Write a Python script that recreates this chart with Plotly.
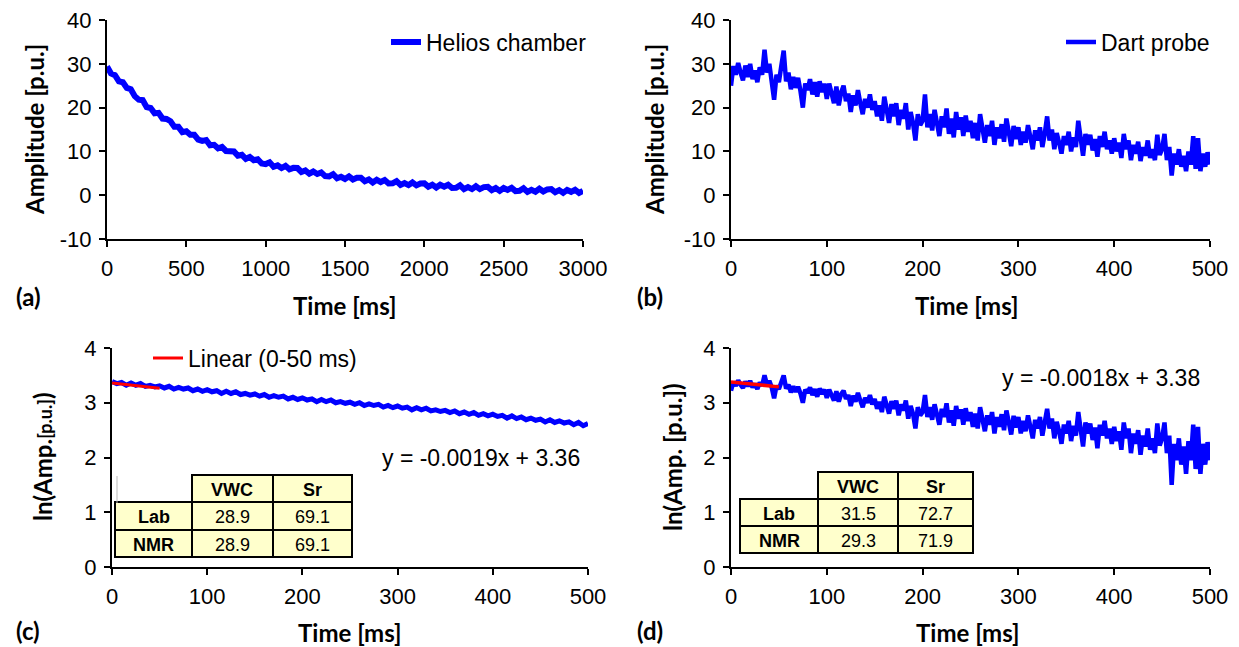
import plotly.graph_objects as go

W, H = 1239, 647

# ---------------- data ----------------
helios_t = list(range(0, 3001, 25))
helios_amp = [
    29.4, 27.8, 27.4, 26.0, 25.8, 24.5, 24.2, 22.6,
    21.8, 21.7, 20.1, 19.9, 18.7, 18.8, 17.5, 17.4,
    16.9, 15.6, 15.6, 14.4, 14.6, 13.8, 13.8, 12.7,
    12.4, 12.6, 11.4, 11.5, 10.7, 11.0, 10.1, 10.2,
    10.0, 9.0, 9.2, 8.3, 8.7, 8.0, 8.2, 7.25,
    7.1, 7.5, 6.5, 6.8, 6.2, 6.7, 5.9, 6.25,
    6.2, 5.3, 5.65, 4.9, 5.4, 4.85, 5.2, 4.35,
    4.3, 4.8, 3.85, 4.2, 3.7, 4.3, 3.6, 4.0,
    4.0, 3.2, 3.6, 2.9, 3.5, 3.0, 3.45, 2.67,
    2.7, 3.22, 2.35, 2.77, 2.3, 2.92, 2.25, 2.67,
    2.7, 1.95, 2.4, 1.75, 2.4, 1.95, 2.4, 1.65,
    1.7, 2.25, 1.4, 1.85, 1.4, 2.05, 1.4, 1.85,
    1.9, 1.16, 1.62, 0.98, 1.65, 1.21, 1.67, 0.93,
    1.0, 1.57, 0.75, 1.22, 0.8, 1.47, 0.85, 1.32,
    1.4, 0.67, 1.15, 0.52, 1.2, 0.77, 1.25, 0.52,
    1.0,
]

dart_t = [i * 2.5 for i in range(201)]
dart_amp = [
    25.0, 29.5, 27.5, 30.2, 28.0, 26.2, 29.6, 27.0, 30.0, 26.5, 28.5, 25.8, 29.2, 27.5, 33.2, 28.0, 30.0, 26.5, 21.8, 27.5,
    25.8, 29.5, 33.0, 26.0, 28.0, 24.2, 27.0, 24.5, 26.8, 23.8, 20.0, 25.5, 24.0, 26.5, 23.0, 25.8, 22.5, 26.0, 23.5, 25.5,
    22.0, 25.5, 23.0, 21.0, 24.8, 20.5, 23.5, 25.0, 21.5, 23.2, 19.0, 22.8, 20.5, 24.0, 21.0, 18.5, 22.0, 20.0, 23.0, 19.5,
    21.5, 18.0, 20.5, 17.0, 22.5, 19.0, 16.5, 20.8, 18.0, 21.0, 16.0, 19.5, 17.5, 21.0, 15.0, 19.0, 16.5, 12.5, 18.5, 16.0,
    17.0, 23.0, 15.5, 18.5, 14.8, 19.5, 16.5, 13.5, 18.0, 15.5, 19.8, 14.0, 17.5, 13.2, 19.0, 15.0, 17.8, 13.5, 18.2, 14.5,
    17.0, 13.0, 16.5, 12.5, 18.5, 14.5, 12.0, 16.0, 13.5, 17.0, 11.5, 15.5, 13.0, 16.2, 12.2, 17.5, 13.8, 11.2, 15.8, 12.8,
    15.5, 11.5, 14.5, 12.0, 16.0, 13.0, 10.5, 14.8, 12.5, 15.5, 11.0, 14.0, 18.0, 12.5, 15.0, 10.5, 14.2, 12.0, 9.5, 13.5,
    11.5, 14.5, 10.0, 13.2, 11.0, 17.0, 12.5, 9.0, 14.0, 11.5, 13.8, 10.2, 12.8, 8.8, 13.5, 11.0, 14.5, 10.5, 12.5, 9.5,
    13.0, 10.0, 12.0, 8.5, 14.0, 10.5, 12.5, 8.0, 11.5, 9.5, 12.2, 7.8, 11.0, 9.0, 12.5, 8.5, 10.5, 8.0, 13.8, 9.2,
    10.5, 14.0, 8.0, 11.0, 4.5, 9.5, 7.0, 10.5, 6.5, 9.0, 5.5, 10.0, 7.0, 13.5, 6.0, 13.0, 5.5, 9.5, 6.5, 9.8, 7.0,
]

helios_ln_t = list(range(0, 501, 5))
helios_ln = [
    3.39, 3.35, 3.37, 3.32, 3.36, 3.32, 3.35, 3.30, 3.32, 3.29,
    3.31, 3.27, 3.30, 3.25, 3.28, 3.25, 3.27, 3.22, 3.25, 3.21,
    3.24, 3.20, 3.22, 3.17, 3.21, 3.17, 3.20, 3.15, 3.17, 3.14,
    3.16, 3.12, 3.15, 3.10, 3.13, 3.10, 3.12, 3.07, 3.10, 3.06,
    3.09, 3.05, 3.07, 3.02, 3.06, 3.02, 3.05, 3.00, 3.02, 2.99,
    3.01, 2.97, 3.00, 2.95, 2.98, 2.95, 2.97, 2.92, 2.95, 2.91,
    2.94, 2.90, 2.92, 2.87, 2.91, 2.87, 2.90, 2.85, 2.87, 2.84,
    2.86, 2.82, 2.85, 2.80, 2.83, 2.79, 2.82, 2.77, 2.80, 2.76,
    2.79, 2.75, 2.77, 2.72, 2.76, 2.71, 2.74, 2.69, 2.72, 2.68,
    2.70, 2.65, 2.69, 2.64, 2.67, 2.63, 2.65, 2.60, 2.64, 2.58,
    2.62,
]

dart_ln = [
    3.22, 3.38, 3.31, 3.41, 3.33, 3.27, 3.39, 3.30, 3.40, 3.28, 3.35, 3.25, 3.37, 3.31, 3.50, 3.33, 3.40, 3.28, 3.08, 3.31,
    3.25, 3.38, 3.50, 3.26, 3.33, 3.19, 3.30, 3.20, 3.29, 3.17, 3.00, 3.24, 3.18, 3.28, 3.14, 3.25, 3.11, 3.26, 3.16, 3.24,
    3.09, 3.24, 3.14, 3.04, 3.21, 3.02, 3.16, 3.22, 3.07, 3.14, 2.94, 3.13, 3.02, 3.18, 3.04, 2.92, 3.09, 3.00, 3.14, 2.97,
    3.07, 2.89, 3.02, 2.83, 3.11, 2.94, 2.80, 3.03, 2.89, 3.04, 2.77, 2.97, 2.86, 3.04, 2.71, 2.94, 2.80, 2.53, 2.92, 2.77,
    2.83, 3.14, 2.74, 2.92, 2.69, 2.97, 2.80, 2.60, 2.89, 2.74, 2.99, 2.64, 2.86, 2.58, 2.94, 2.71, 2.88, 2.60, 2.90, 2.67,
    2.83, 2.56, 2.80, 2.53, 2.92, 2.67, 2.48, 2.77, 2.60, 2.83, 2.44, 2.74, 2.56, 2.79, 2.50, 2.86, 2.62, 2.42, 2.76, 2.55,
    2.74, 2.44, 2.67, 2.48, 2.77, 2.56, 2.35, 2.69, 2.53, 2.74, 2.40, 2.64, 2.89, 2.53, 2.71, 2.35, 2.65, 2.48, 2.25, 2.60,
    2.44, 2.67, 2.30, 2.58, 2.40, 2.83, 2.53, 2.20, 2.64, 2.44, 2.62, 2.32, 2.55, 2.17, 2.60, 2.40, 2.67, 2.35, 2.53, 2.25,
    2.56, 2.30, 2.48, 2.14, 2.64, 2.35, 2.53, 2.08, 2.44, 2.25, 2.50, 2.05, 2.40, 2.20, 2.53, 2.14, 2.35, 2.08, 2.62, 2.22,
    2.35, 2.64, 2.08, 2.40, 1.50, 2.25, 1.95, 2.35, 1.87, 2.20, 1.70, 2.30, 1.95, 2.60, 1.79, 2.56, 1.70, 2.25, 1.87, 2.28, 1.95,
]

fit_t = [0, 50]
fit_helios = [3.36, 3.265]
fit_dart = [3.38, 3.29]
eq_helios = "y = -0.0019x + 3.36"
eq_dart = "y = -0.0018x + 3.38"

table_cols = ["VWC", "Sr"]
table_rows = ["Lab", "NMR"]
table_helios = [["28.9", "69.1"], ["28.9", "69.1"]]
table_dart = [["31.5", "72.7"], ["29.3", "71.9"]]

amp_ticks = [-10, 0, 10, 20, 30, 40]
amp_ticktext = ["-10", "0", "10", "20", "30", "40"]

panel_labels = ["(a)", "(b)", "(c)", "(d)"]

# ---------------- helpers ----------------
def px(x):
    return x / W

def py(y):
    return 1 - y / H

BLUE = "#0000FF"
RED = "#FF0000"
TICK_FONT = dict(family="Liberation Sans, Arial, sans-serif", size=22, color="black")
LEG_FONT = dict(family="Liberation Sans, Arial, sans-serif", size=23, color="black")
BOLD_FONT = dict(family="Lato, Calibri, sans-serif", size=24, color="black")
TABLE_FONT = dict(family="Liberation Sans Narrow, Arial Narrow, Liberation Sans, sans-serif", size=18, color="black")

fig = go.Figure()

fig.add_trace(go.Scatter(x=helios_t, y=helios_amp, mode="lines", name="Helios chamber",
                         line=dict(color=BLUE, width=6), xaxis="x", yaxis="y", legend="legend"))
fig.add_trace(go.Scatter(x=dart_t, y=dart_amp, mode="lines", name="Dart probe",
                         line=dict(color=BLUE, width=4.5), xaxis="x2", yaxis="y2", legend="legend2"))
fig.add_trace(go.Scatter(x=helios_ln_t, y=helios_ln, mode="lines", name="Helios ln",
                         line=dict(color=BLUE, width=5), xaxis="x3", yaxis="y3", showlegend=False))
fig.add_trace(go.Scatter(x=fit_t, y=fit_helios, mode="lines", name="Linear (0-50 ms)",
                         line=dict(color=RED, width=3), xaxis="x3", yaxis="y3", legend="legend3"))
fig.add_trace(go.Scatter(x=dart_t, y=dart_ln, mode="lines", name="Dart ln",
                         line=dict(color=BLUE, width=4.5), xaxis="x4", yaxis="y4", showlegend=False))
fig.add_trace(go.Scatter(x=fit_t, y=fit_dart, mode="lines", name="Linear dart",
                         line=dict(color=RED, width=3.5), xaxis="x4", yaxis="y4", showlegend=False))

def axis(domain, rng, dtick, anchor, tickvals=None, ticktext=None):
    d = dict(domain=domain, range=rng, dtick=dtick, tick0=rng[0], anchor=anchor,
             showline=True, linewidth=2, linecolor="black", ticks="outside",
             ticklen=6, tickwidth=2, tickcolor="black", showgrid=False, zeroline=False,
             tickfont=TICK_FONT, fixedrange=True, automargin=False, ticklabelstandoff=3)
    if tickvals is not None:
        d.update(tickmode="array", tickvals=tickvals, ticktext=ticktext)
    return d

top = [py(239), py(20)]
bot = [py(567), py(348)]
left_a = [px(107), px(583)]
left_c = [px(112), px(588)]
right = [px(731), px(1210)]

fig.update_layout(
    width=W, height=H, autosize=False,
    margin=dict(l=0, r=0, t=0, b=0, autoexpand=False),
    paper_bgcolor="white", plot_bgcolor="white",
    xaxis=axis(left_a, [0, 3000], 500, "y"),
    yaxis=axis(top, [-10, 40], 10, "x", amp_ticks, amp_ticktext),
    xaxis2=axis(right, [0, 500], 100, "y2"),
    yaxis2=axis(top, [-10, 40], 10, "x2", amp_ticks, amp_ticktext),
    xaxis3=axis(left_c, [0, 500], 100, "y3"),
    yaxis3=axis(bot, [0, 4], 1, "x3"),
    xaxis4=axis(right, [0, 500], 100, "y4"),
    yaxis4=axis(bot, [0, 4], 1, "x4"),
    legend=dict(x=px(592), xanchor="right", y=py(42), yanchor="middle",
                font=LEG_FONT, bgcolor="rgba(0,0,0,0)"),
    legend2=dict(x=px(1215), xanchor="right", y=py(42), yanchor="middle",
                 font=LEG_FONT, bgcolor="rgba(0,0,0,0)"),
    legend3=dict(x=px(148), xanchor="left", y=py(358), yanchor="middle",
                 font=LEG_FONT, bgcolor="rgba(0,0,0,0)"),
)

ann = []
shapes = []

def text(x, y, s, font, angle=0):
    ann.append(dict(x=px(x), y=py(y), xref="paper", yref="paper", text=s, showarrow=False,
                    xanchor="center", yanchor="middle", font=font, textangle=angle))

# axis titles
text(345, 305, "<b>Time [ms]</b>", BOLD_FONT)
text(967, 305, "<b>Time [ms]</b>", BOLD_FONT)
text(350, 632, "<b>Time [ms]</b>", BOLD_FONT)
text(968, 632, "<b>Time [ms]</b>", BOLD_FONT)
text(35, 130, "<b>Amplitude [p.u.]</b>", BOLD_FONT, -90)
text(655, 130, "<b>Amplitude [p.u.]</b>", BOLD_FONT, -90)
text(42, 457, "<b>ln(Amp.<span style='font-size:18px'>[p.u.]</span>)</b>", BOLD_FONT, -90)
text(672, 457, "<b>ln(Amp. [p.u.])</b>", BOLD_FONT, -90)

# panel labels
for lab, (x, y) in zip(panel_labels, [(28, 297), (650, 297), (28, 630), (650, 630)]):
    text(x, y, "<b>%s</b>" % lab, BOLD_FONT)

# equations
text(481, 458, eq_helios, LEG_FONT)
text(1101, 378, eq_dart, LEG_FONT)

def table(L, T, cw, rh, values):
    xs = [L, L + cw[0], L + cw[0] + cw[1], L + cw[0] + cw[1] + cw[2]]
    ys = [T, T + rh[0], T + rh[0] + rh[1], T + rh[0] + rh[1] + rh[2]]
    for r in range(3):
        for c in range(3):
            if r == 0 and c == 0:
                continue
            shapes.append(dict(type="rect", xref="paper", yref="paper",
                               x0=px(xs[c]), x1=px(xs[c + 1]), y0=py(ys[r + 1]), y1=py(ys[r]),
                               fillcolor="#FFFFCC", line=dict(color="black", width=2), layer="above"))
            cx = (xs[c] + xs[c + 1]) / 2
            cy = (ys[r] + ys[r + 1]) / 2 + 1
            if r == 0:
                s = "<b>%s</b>" % table_cols[c - 1]
            elif c == 0:
                s = "<b>%s</b>" % table_rows[r - 1]
            else:
                s = values[r - 1][c - 1]
            text(cx, cy, s, TABLE_FONT)

table(115, 475, [77, 81, 79], [27, 28, 27], table_helios)
table(740, 472, [78, 80, 75], [27, 27, 27], table_dart)

shapes.append(dict(type="line", xref="paper", yref="paper", x0=px(117), x1=px(117),
                   y0=py(503), y1=py(476), line=dict(color="#BBBBBB", width=1)))

fig.update_layout(annotations=ann, shapes=shapes)
fig.write_html("out.html")
